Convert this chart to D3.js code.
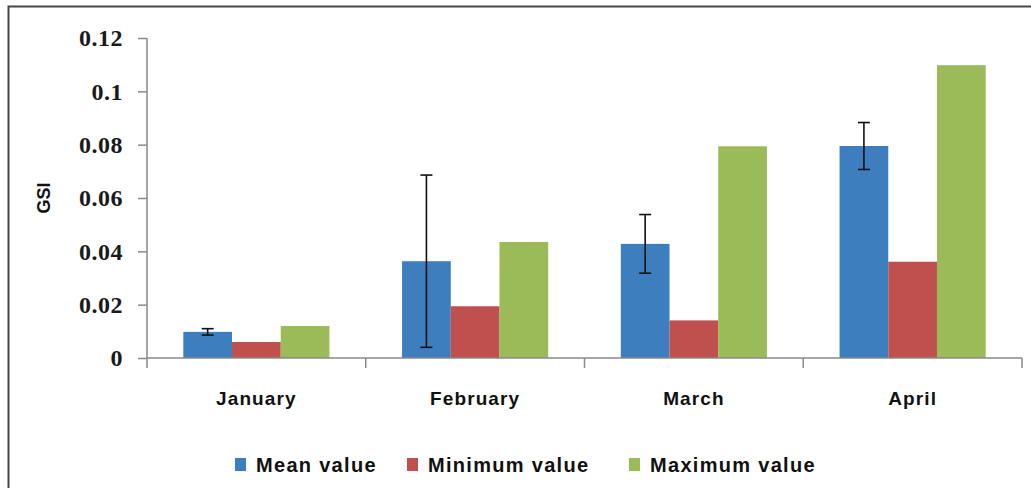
<!DOCTYPE html>
<html>
<head>
<meta charset="utf-8">
<script src="https://cdn.jsdelivr.net/npm/d3@7"></script>
<style>
  html, body { margin: 0; padding: 0; background: #fff; }
  svg { display: block; }
</style>
</head>
<body>
<svg id="chart" width="1031" height="488"></svg>
<script>
// GSI per month: mean with error bars, plus minimum and maximum
const months = ["January", "February", "March", "April"];
const seriesNames = ["Mean value", "Minimum value", "Maximum value"];
const meanValues = [0.0098, 0.0363, 0.0428, 0.0795];
const meanErrors = [0.0012, 0.0323, 0.0110, 0.0088];
const minValues = [0.0060, 0.0194, 0.0141, 0.0361];
const maxValues = [0.0120, 0.0435, 0.0794, 0.1098];
const yTicks = [0, 0.02, 0.04, 0.06, 0.08, 0.1, 0.12];
const yTickLabels = ["0", "0.02", "0.04", "0.06", "0.08", "0.1", "0.12"];
const colors = ["#3d7ebf", "#c0504d", "#9bbb59"];

const svg = d3.select("#chart");

// outer frame (top and left edges)
svg.append("path")
  .attr("d", "M8.5,488 V6.5 H1031")
  .attr("fill", "none")
  .attr("stroke", "#474747")
  .attr("stroke-width", 2);

const plot = { left: 147, right: 1022, top: 38, bottom: 358 };

const y = d3.scaleLinear().domain([0, 0.12]).range([plot.bottom, plot.top]);
const x0 = d3.scaleBand().domain(months).range([plot.left, plot.right]).padding(0);
const groupPad = x0.bandwidth() * 0.166;
const x1 = d3.scaleBand().domain(seriesNames)
  .range([groupPad, x0.bandwidth() - groupPad]).padding(0);

const seriesValues = [meanValues, minValues, maxValues];
const rows = [];
months.forEach((m, i) => {
  seriesNames.forEach((s, j) => {
    rows.push({ month: m, series: s, value: seriesValues[j][i], color: colors[j] });
  });
});

// bars
svg.append("g")
  .selectAll("rect")
  .data(rows)
  .join("rect")
  .attr("x", d => x0(d.month) + x1(d.series))
  .attr("y", d => y(d.value))
  .attr("width", x1.bandwidth())
  .attr("height", d => y(0) - y(d.value))
  .attr("fill", d => d.color);

// error bars on the mean series
const err = svg.append("g")
  .attr("stroke", "#111")
  .attr("stroke-width", 1.6)
  .selectAll("g")
  .data(months.map((m, i) => ({ month: m, v: meanValues[i], e: meanErrors[i] })))
  .join("g")
  .attr("transform", d => `translate(${x0(d.month) + x1(seriesNames[0]) + x1.bandwidth() / 2},0)`);
err.append("line")
  .attr("y1", d => y(d.v + d.e)).attr("y2", d => y(d.v - d.e));
err.append("line")
  .attr("x1", -6).attr("x2", 6)
  .attr("y1", d => y(d.v + d.e)).attr("y2", d => y(d.v + d.e));
err.append("line")
  .attr("x1", -6).attr("x2", 6)
  .attr("y1", d => y(d.v - d.e)).attr("y2", d => y(d.v - d.e));

// y axis
const yAxis = d3.axisLeft(y)
  .tickValues(yTicks)
  .tickFormat((d, i) => yTickLabels[i])
  .tickSize(9)
  .tickPadding(15);
const gy = svg.append("g")
  .attr("transform", `translate(${plot.left},0)`)
  .call(yAxis);
gy.select(".domain").remove();
gy.append("line")
  .attr("x1", 0).attr("x2", 0)
  .attr("y1", plot.top).attr("y2", plot.bottom + 10)
  .attr("stroke", "#8a8a8a").attr("stroke-width", 1.5);
gy.selectAll(".tick line").attr("stroke", "#8a8a8a").attr("stroke-width", 1.5);
gy.selectAll(".tick text")
  .attr("font-family", "'Liberation Serif', serif")
  .attr("font-weight", "bold")
  .attr("font-size", 24)
  .attr("letter-spacing", 0.5)
  .attr("fill", "#1a1a1a")
  .attr("dy", "0.33em");

// x axis with ticks at category boundaries
const gx = svg.append("g").attr("transform", `translate(0,${plot.bottom})`);
gx.append("line")
  .attr("x1", plot.left).attr("x2", plot.right)
  .attr("stroke", "#8a8a8a").attr("stroke-width", 1.5);
gx.selectAll(".bt")
  .data(months)
  .join("line")
  .attr("class", "bt")
  .attr("x1", d => x0(d) + x0.bandwidth()).attr("x2", d => x0(d) + x0.bandwidth())
  .attr("y1", 0).attr("y2", 10)
  .attr("stroke", "#8a8a8a").attr("stroke-width", 1.5);
gx.selectAll("text")
  .data(months)
  .join("text")
  .attr("x", d => x0(d) + x0.bandwidth() / 2)
  .attr("y", 47)
  .attr("text-anchor", "middle")
  .attr("font-family", "'Liberation Sans', Arial, sans-serif")
  .attr("font-weight", "bold")
  .attr("font-size", 19)
  .attr("letter-spacing", 1.1)
  .attr("fill", "#111")
  .text(d => d);

// y axis title
svg.append("text")
  .attr("transform", `translate(50,${(plot.top + plot.bottom) / 2}) rotate(-90)`)
  .attr("text-anchor", "middle")
  .attr("font-family", "'Liberation Sans', Arial, sans-serif")
  .attr("font-weight", "bold")
  .attr("font-size", 18)
  .attr("fill", "#111")
  .text("GSI");

// legend
const legendX = [235, 407, 629];
const legend = svg.append("g")
  .selectAll("g")
  .data(seriesNames)
  .join("g")
  .attr("transform", (d, i) => `translate(${legendX[i]},458)`);
legend.append("rect")
  .attr("width", 11).attr("height", 13)
  .attr("fill", (d, i) => colors[i]);
legend.append("text")
  .attr("x", 21).attr("y", 13.5)
  .attr("font-family", "'Liberation Sans', Arial, sans-serif")
  .attr("font-weight", "bold")
  .attr("font-size", 20)
  .attr("letter-spacing", 1.3)
  .attr("fill", "#111")
  .text(d => d);
</script>
</body>
</html>
